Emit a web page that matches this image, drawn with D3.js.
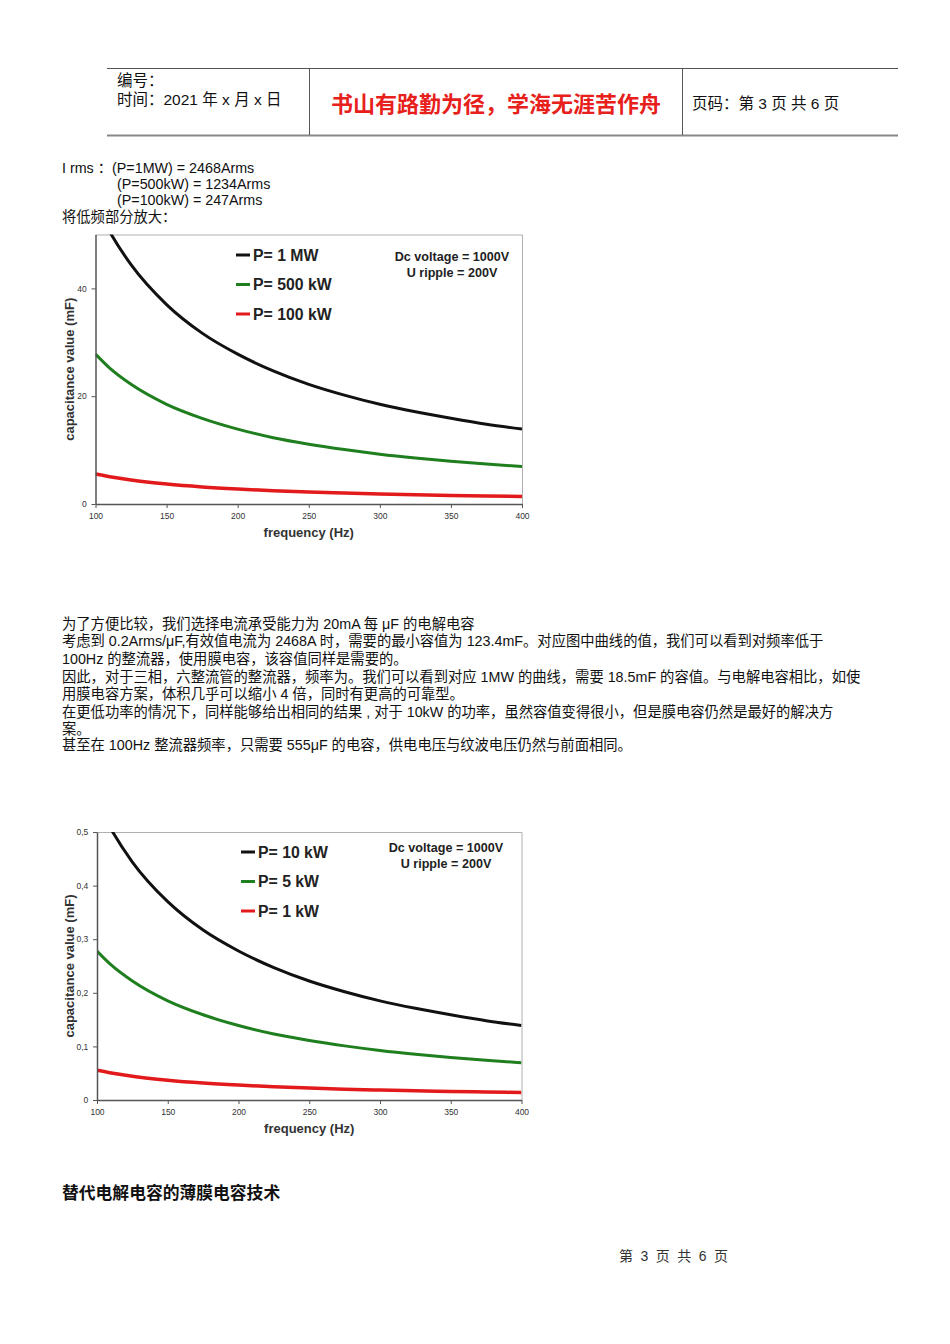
<!DOCTYPE html>
<html><head><meta charset="utf-8">
<script src="https://cdn.jsdelivr.net/npm/d3@7"></script>
<style>
html,body{margin:0;padding:0;background:#fff;}
svg{display:block;}
text{font-family:"Liberation Sans","Noto Sans CJK SC",Arial,sans-serif;}
</style></head>
<body>
<script>
// ---------- data ----------
const freq = [100, 110, 125, 150, 175, 200, 225, 250, 275, 300, 325, 350, 375, 400];
const xTicks = [100, 150, 200, 250, 300, 350, 400];

// chart 1 (mF)
const p1MW   = [55.5, 50.5, 44.4, 37.0, 31.7, 27.8, 24.7, 22.2, 20.2, 18.5, 17.1, 15.9, 14.8, 13.9];
const p500kW = [27.8, 25.2, 22.2, 18.5, 15.9, 13.9, 12.3, 11.1, 10.1, 9.25, 8.54, 7.93, 7.40, 6.94];
const p100kW = [5.55, 5.05, 4.44, 3.70, 3.17, 2.78, 2.47, 2.22, 2.02, 1.85, 1.71, 1.59, 1.48, 1.39];
const yTicks1 = [0, 20, 40];
const yTickLabels1 = ["0", "20", "40"];
const legend1 = ["P= 1 MW", "P= 500 kW", "P= 100 kW"];

// chart 2 (mF)
const p10kW = [0.555, 0.505, 0.444, 0.370, 0.317, 0.278, 0.247, 0.222, 0.202, 0.185, 0.171, 0.159, 0.148, 0.139];
const p5kW  = [0.278, 0.252, 0.222, 0.185, 0.159, 0.139, 0.123, 0.111, 0.101, 0.0925, 0.0854, 0.0793, 0.0740, 0.0694];
const p1kW  = [0.0555, 0.0505, 0.0444, 0.0370, 0.0317, 0.0278, 0.0247, 0.0222, 0.0202, 0.0185, 0.0171, 0.0159, 0.0148, 0.0139];
const yTicks2 = [0, 0.1, 0.2, 0.3, 0.4, 0.5];
const yTickLabels2 = ["0", "0,1", "0,2", "0,3", "0,4", "0,5"];
const legend2 = ["P= 10 kW", "P= 5 kW", "P= 1 kW"];

const seriesColors = ["#111111", "#1f7f1f", "#e31a1c"];
const annot = ["Dc voltage = 1000V", "U ripple = 200V"];

// ---------- page ----------
const W = 950, H = 1344;
const svg = d3.select("body").append("svg").attr("width", W).attr("height", H);

// header table
svg.append("line").attr("x1",107).attr("x2",898).attr("y1",68.5).attr("y2",68.5).attr("stroke","#555").attr("stroke-width",1);
svg.append("line").attr("x1",107).attr("x2",898).attr("y1",135.5).attr("y2",135.5).attr("stroke","#888").attr("stroke-width",2);
[309.5, 682.5].forEach(x => svg.append("line").attr("x1",x).attr("x2",x).attr("y1",68.5).attr("y2",135).attr("stroke","#555").attr("stroke-width",1));
svg.append("text").attr("x",117).attr("y",86).attr("font-size",15.5).attr("fill","#111").text("编号：");
svg.append("text").attr("x",117).attr("y",105).attr("font-size",15.5).attr("fill","#111").text("时间：2021 年 x 月 x 日");
svg.append("text").attr("x",496).attr("y",112).attr("text-anchor","middle").attr("font-size",22).attr("font-weight","bold").attr("fill","#e8201c").text("书山有路勤为径，学海无涯苦作舟");
svg.append("text").attr("x",692).attr("y",109).attr("font-size",15.5).attr("fill","#111").text("页码：第 3 页  共 6 页");

// body text
const body = (x, y, t, opts={}) => svg.append("text").attr("x", x).attr("y", y)
  .attr("font-size", opts.size || 14.3).attr("font-weight", opts.weight || "normal")
  .attr("fill", opts.fill || "#111").text(t);

body(62, 173, "I rms ：(P=1MW) = 2468Arms");
body(117, 189, "(P=500kW) = 1234Arms");
body(117, 205, "(P=100kW) = 247Arms");
body(62, 222, "将低频部分放大：");

const para = [
  [629, "为了方便比较，我们选择电流承受能力为 20mA 每 μF 的电解电容"],
  [646, "考虑到  0.2Arms/μF,有效值电流为 2468A 时，需要的最小容值为 123.4mF。对应图中曲线的值，我们可以看到对频率低于"],
  [664, "100Hz 的整流器，使用膜电容，该容值同样是需要的。"],
  [682, "因此，对于三相，六整流管的整流器，频率为。我们可以看到对应  1MW 的曲线，需要 18.5mF 的容值。与电解电容相比，如使"],
  [699, "用膜电容方案，体积几乎可以缩小 4 倍，同时有更高的可靠型。"],
  [717, "在更低功率的情况下，同样能够给出相同的结果 , 对于 10kW 的功率，虽然容值变得很小，但是膜电容仍然是最好的解决方"],
  [734, "案。"],
  [750, "甚至在 100Hz 整流器频率，只需要 555μF 的电容，供电电压与纹波电压仍然与前面相同。"]
];
para.forEach(([y, t]) => body(62, y, t));

body(62, 1199, "替代电解电容的薄膜电容技术", {size: 16.8, weight: "bold"});
svg.append("text").attr("x", 619).attr("y", 1261).attr("font-size", 14).attr("fill", "#333")
  .attr("letter-spacing", 1.8)
  .attr("font-family", "\"Noto Sans CJK SC\", sans-serif").text("第 3 页 共 6 页");

// ---------- charts ----------
function drawChart(cfg) {
  const g = svg.append("g");
  const x = d3.scaleLinear().domain([100, 400]).range([cfg.left, cfg.right]);
  const y = d3.scaleLinear().domain([0, cfg.yMax]).range([cfg.bottom, cfg.top]);

  // frame (top/right)
  g.append("path")
    .attr("d", `M${cfg.left},${cfg.top + 0.5}H${cfg.right + 0.5}V${cfg.bottom}`)
    .attr("fill", "none").attr("stroke", "#b0b0b0").attr("stroke-width", 1);

  const clipId = "clip" + cfg.id;
  g.append("clipPath").attr("id", clipId).append("rect")
    .attr("x", cfg.left).attr("y", cfg.top).attr("width", cfg.right - cfg.left).attr("height", cfg.bottom - cfg.top);

  const line = d3.line().x((d, i) => x(freq[i])).y(d => y(d)).curve(d3.curveMonotoneX);
  cfg.series.forEach((s, k) => {
    g.append("path").datum(s).attr("d", line).attr("clip-path", `url(#${clipId})`)
      .attr("fill", "none").attr("stroke", seriesColors[k])
      .attr("stroke-width", k === 2 ? 3.5 : 3).attr("stroke-linejoin", "round");
  });

  // axes
  const xAxis = d3.axisBottom(x).tickValues(xTicks).tickSize(4).tickSizeOuter(0).tickFormat(d3.format("d"));
  const xa = g.append("g").attr("transform", `translate(0,${cfg.bottom})`).call(xAxis);
  const yAxis = d3.axisLeft(y).tickValues(cfg.yTicks).tickSize(4).tickSizeOuter(0)
    .tickFormat((d, i) => cfg.yLabels[i]);
  const ya = g.append("g").attr("transform", `translate(${cfg.left},0)`).call(yAxis);
  [xa, ya].forEach(a => {
    a.select(".domain").attr("stroke", "#555").attr("stroke-width", 1.5);
    a.selectAll(".tick line").attr("stroke", "#555");
    a.selectAll("text").attr("font-size", 8.5).attr("fill", "#333")
      .attr("font-family", "\"Liberation Sans\", Arial, sans-serif");
  });
  xa.selectAll("text").attr("dy", "0.9em");
  ya.selectAll("text").attr("dx", "-0.2em");

  // axis titles
  g.append("text").attr("x", (cfg.left + cfg.right) / 2).attr("y", cfg.bottom + 33)
    .attr("text-anchor", "middle").attr("font-size", 13).attr("font-weight", "bold").attr("fill", "#333")
    .text("frequency (Hz)");
  g.append("text").attr("transform", `translate(${cfg.yTitleX},${(cfg.top + cfg.bottom) / 2}) rotate(-90)`)
    .attr("text-anchor", "middle").attr("font-size", 13).attr("font-weight", "bold").attr("fill", "#333")
    .text("capacitance value (mF)");

  // legend
  cfg.legend.forEach((t, k) => {
    const yy = cfg.legY + k * 29.5;
    g.append("line").attr("x1", cfg.legX).attr("x2", cfg.legX + 14).attr("y1", yy).attr("y2", yy)
      .attr("stroke", seriesColors[k]).attr("stroke-width", 3);
    g.append("text").attr("x", cfg.legX + 17).attr("y", yy + 5.5).attr("font-size", 15.8)
      .attr("fill", "#222").attr("font-weight", "bold").text(t);
  });

  // annotation
  annot.forEach((t, k) => {
    g.append("text").attr("x", cfg.annX).attr("y", cfg.annY + k * 16)
      .attr("text-anchor", "middle").attr("font-size", 12.6).attr("font-weight", "bold").attr("fill", "#222").text(t);
  });
}

drawChart({id: 1, left: 95.5, right: 522, top: 234.5, bottom: 504, yMax: 50,
  series: [p1MW, p500kW, p100kW], yTicks: yTicks1, yLabels: yTickLabels1, legend: legend1,
  legX: 236, legY: 255, annX: 452, annY: 261, yTitleX: 74});

drawChart({id: 2, left: 97, right: 521.5, top: 832, bottom: 1100, yMax: 0.5,
  series: [p10kW, p5kW, p1kW], yTicks: yTicks2, yLabels: yTickLabels2, legend: legend2,
  legX: 241, legY: 852, annX: 446, annY: 852, yTitleX: 74});
</script>
</body></html>
